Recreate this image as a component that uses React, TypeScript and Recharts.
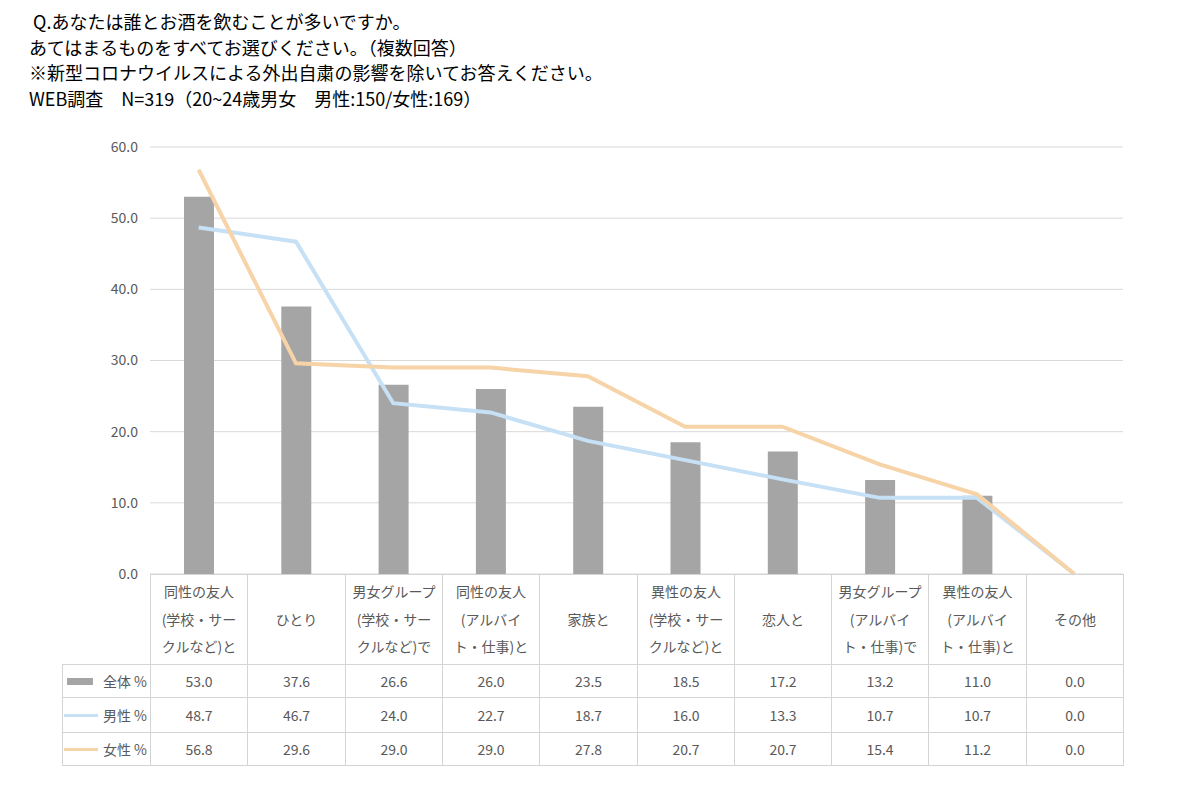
import React from "react";
import { ComposedChart, Bar, Line, XAxis, YAxis, CartesianGrid } from "recharts";

const titleLines = [
  " Q.あなたは誰とお酒を飲むことが多いですか。",
  "あてはまるものをすべてお選びください。（複数回答）",
  "※新型コロナウイルスによる外出自粛の影響を除いてお答えください。",
  "WEB調査　N=319（20~24歳男女　男性:150/女性:169）",
];

const categories = [
  "同性の友人\n(学校・サー\nクルなど)と",
  "ひとり",
  "男女グループ\n(学校・サー\nクルなど)で",
  "同性の友人\n(アルバイ\nト・仕事)と",
  "家族と",
  "異性の友人\n(学校・サー\nクルなど)と",
  "恋人と",
  "男女グループ\n(アルバイ\nト・仕事)で",
  "異性の友人\n(アルバイ\nト・仕事)と",
  "その他",
];
const total = [53.0, 37.6, 26.6, 26.0, 23.5, 18.5, 17.2, 13.2, 11.0, 0.0];
const male = [48.7, 46.7, 24.0, 22.7, 18.7, 16.0, 13.3, 10.7, 10.7, 0.0];
const female = [56.8, 29.6, 29.0, 29.0, 27.8, 20.7, 20.7, 15.4, 11.2, 0.0];
const yTicks = [0, 10, 20, 30, 40, 50, 60];
const seriesNames = ["全体 %", "男性 %", "女性 %"];

const COLORS = { total: "#a5a5a5", male: "#c6e0f5", female: "#f7d3a8" };
const FONT = "'Noto Sans CJK JP', 'Noto Sans', sans-serif";

const data = categories.map((c, i) => ({
  name: c,
  total: total[i],
  male: male[i],
  female: female[i],
}));

const PLOT_LEFT = 150;
const PLOT_RIGHT = 1123;
const PLOT_TOP = 147;
const PLOT_BOTTOM = 574;
const LABEL_LEFT = 62;
const HEADER_H = 90;
const ROW_H = [33, 35, 33];
const BORDER = "#d4d4d4";

function Cell(props: { x: number; y: number; w: number; h: number; children?: React.ReactNode; style?: React.CSSProperties }) {
  const { x, y, w, h, children, style } = props;
  return (
    <div
      style={{
        position: "absolute",
        left: x,
        top: y,
        width: w + 1,
        height: h + 1,
        boxSizing: "border-box",
        border: `1px solid ${BORDER}`,
        display: "flex",
        alignItems: "center",
        justifyContent: "center",
        textAlign: "center",
        ...style,
      }}
    >
      {children}
    </div>
  );
}

function DataTable() {
  const colW = (PLOT_RIGHT - PLOT_LEFT) / categories.length;
  const edge = (i: number) => Math.round(PLOT_LEFT + i * colW);
  const series = [total, male, female];
  const cells: React.ReactNode[] = [];
  categories.forEach((c, i) => {
    cells.push(
      <Cell key={"h" + i} x={edge(i)} y={PLOT_BOTTOM} w={edge(i + 1) - edge(i)} h={HEADER_H} style={{ whiteSpace: "pre-line", lineHeight: "27.5px" }}>
        {c}
      </Cell>
    );
  });
  let y = PLOT_BOTTOM + HEADER_H;
  series.forEach((vals, r) => {
    const h = ROW_H[r];
    const key =
      r === 0 ? (
        <div style={{ position: "absolute", left: 4, top: Math.round(h / 2 - 4), width: 26, height: 7, background: COLORS.total }} />
      ) : (
        <div style={{ position: "absolute", left: 1, top: Math.round(h / 2 - 2), width: 34, height: 3, background: r === 1 ? COLORS.male : COLORS.female }} />
      );
    cells.push(
      <Cell key={"l" + r} x={LABEL_LEFT} y={y} w={PLOT_LEFT - LABEL_LEFT} h={h} style={{ justifyContent: "flex-end", paddingRight: 3 }}>
        {key}
        <span style={{ position: "relative" }}>{seriesNames[r]}</span>
      </Cell>
    );
    vals.forEach((v, i) => {
      cells.push(
        <Cell key={"c" + r + "-" + i} x={edge(i)} y={y} w={edge(i + 1) - edge(i)} h={h}>
          {v.toFixed(1)}
        </Cell>
      );
    });
    y += h;
  });
  return <>{cells}</>;
}

export default function App() {
  return (
    <div
      style={{
        position: "absolute",
        left: 0,
        top: 0,
        width: 1200,
        height: 795,
        background: "#fff",
        fontFamily: FONT,
        color: "#595959",
        fontSize: 14,
        overflow: "hidden",
      }}
    >
      <div style={{ position: "absolute", left: 29, top: 9, color: "#000", fontSize: 18, lineHeight: "25.5px" }}>
        {titleLines.map((t, i) => (
          <div key={i} style={{ whiteSpace: "pre" }}>
            {t}
          </div>
        ))}
      </div>
      <div style={{ position: "absolute", left: 0, top: 0 }}>
        <ComposedChart
          width={1200}
          height={600}
          data={data}
          margin={{ top: PLOT_TOP, right: 1200 - PLOT_RIGHT, left: PLOT_LEFT - 60, bottom: 600 - PLOT_BOTTOM }}
        >
          <CartesianGrid horizontal vertical={false} stroke="#d9d9d9" strokeWidth={1} />
          <XAxis dataKey="name" hide padding={{ left: 0, right: 0 }} />
          <YAxis
            width={60}
            domain={[0, 60]}
            ticks={yTicks}
            axisLine={false}
            tickLine={false}
            tickMargin={6}
            tick={{ fill: "#595959", fontSize: 14, fontFamily: FONT }}
            tickFormatter={(v: number) => v.toFixed(1)}
            interval={0}
          />
          <Bar dataKey="total" fill={COLORS.total} barSize={30} isAnimationActive={false} />
          <Line type="linear" dataKey="male" stroke={COLORS.male} strokeWidth={4} dot={false} activeDot={false} isAnimationActive={false} />
          <Line type="linear" dataKey="female" stroke={COLORS.female} strokeWidth={4} dot={false} activeDot={false} isAnimationActive={false} />
        </ComposedChart>
      </div>
      <DataTable />
    </div>
  );
}
